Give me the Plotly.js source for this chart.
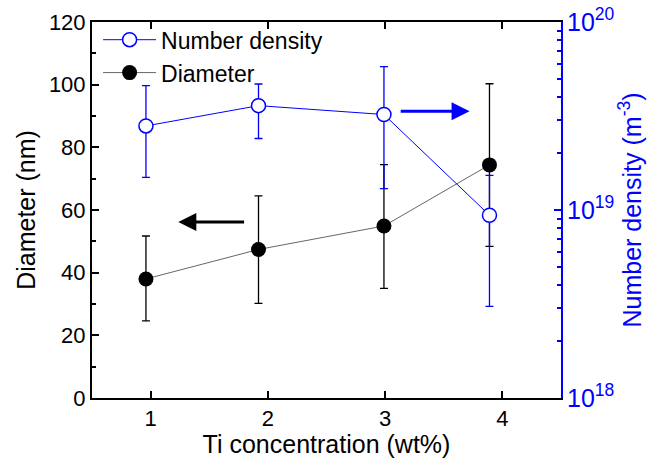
<!DOCTYPE html>
<html>
<head>
<meta charset="utf-8">
<script src="https://cdn.plot.ly/plotly-3.0.1.min.js"></script>
<style>html,body{margin:0;padding:0;background:#fff;}#chart{width:654px;height:458px;}</style>
</head>
<body>
<div id="chart"></div>
<script>
// Data
const tiConc = [0.96, 1.92, 2.99, 3.89];
const diameter = [38.0, 47.4, 54.9, 74.4];
const diameterErrPlus = [13.7, 17.1, 19.6, 25.9];
const diameterErrMinus = [13.4, 17.2, 19.9, 26.0];
const numberDensity = [2.80e19, 3.59e19, 3.22e19, 9.38e18];
const numberDensityUpper = [4.59e19, 4.68e19, 5.79e19, 1.53e19];
const numberDensityLower = [1.49e19, 2.40e19, 1.30e19, 3.07e18];
const xTicks = [1, 2, 3, 4];
const yTicks = [0, 20, 40, 60, 80, 100, 120];

const ndPlus = numberDensity.map((v, i) => numberDensityUpper[i] - v);
const ndMinus = numberDensity.map((v, i) => v - numberDensityLower[i]);

const FONT = 'Liberation Sans, Arial, sans-serif';
const BLUE = '#0000ff';

const traces = [
  {
    x: tiConc, y: diameter, name: 'Diameter', type: 'scatter', mode: 'lines+markers',
    yaxis: 'y', legendrank: 2,
    line: {color: '#666666', width: 1},
    marker: {symbol: 'circle', size: 15, color: '#000000', line: {width: 0}},
    error_y: {type: 'data', symmetric: false, array: diameterErrPlus, arrayminus: diameterErrMinus,
      color: '#000000', thickness: 1.3, width: 4}
  },
  {
    x: tiConc, y: numberDensity, name: 'Number density', type: 'scatter', mode: 'lines+markers',
    yaxis: 'y2', legendrank: 1,
    line: {color: BLUE, width: 1},
    marker: {symbol: 'circle', size: 14, color: '#ffffff', line: {width: 1.5, color: BLUE}},
    error_y: {type: 'data', symmetric: false, array: ndPlus, arrayminus: ndMinus,
      color: BLUE, thickness: 1.3, width: 4}
  }
];

const layout = {
  width: 654, height: 458,
  margin: {l: 92, r: 93, t: 22, b: 60, pad: 0},
  paper_bgcolor: '#ffffff', plot_bgcolor: '#ffffff',
  font: {family: FONT, size: 22, color: '#000'},
  showlegend: true,
  legend: {x: 0.013, y: 1.01, xanchor: 'left', yanchor: 'top', bgcolor: 'rgba(0,0,0,0)',
    font: {family: FONT, size: 23}, tracegroupgap: 0, itemwidth: 53},
  xaxis: {
    range: [0.5, 4.5], tickvals: xTicks, ticktext: xTicks.map(String),
    ticks: 'inside', ticklen: 7, tickwidth: 2, tickcolor: '#000',
    showline: true, linecolor: '#000', linewidth: 2, mirror: 'ticks',
    showgrid: false, zeroline: false,
    tickfont: {family: FONT, size: 22},
    title: {text: 'Ti concentration (wt%)', font: {family: FONT, size: 25}, standoff: 0}
  },
  yaxis: {
    range: [0, 120], tickvals: yTicks, ticktext: yTicks.map(String),
    ticks: 'inside', ticklen: 7, tickwidth: 2, tickcolor: '#000',
    minor: {dtick: 10, ticks: 'inside', ticklen: 4, tickwidth: 2, tickcolor: '#000', showgrid: false},
    showline: true, linecolor: '#000', linewidth: 2,
    showgrid: false, zeroline: false,
    tickfont: {family: FONT, size: 22},
    title: {text: 'Diameter (nm)', font: {family: FONT, size: 25}, standoff: 6}
  },
  yaxis2: {
    type: 'log', range: [18, 20], overlaying: 'y', side: 'right',
    dtick: 1, exponentformat: 'power',
    ticks: 'inside', ticklen: 7, tickwidth: 2, tickcolor: BLUE,
    minor: {dtick: 'D1', ticks: 'inside', ticklen: 4, tickwidth: 2, tickcolor: BLUE, showgrid: false},
    showline: true, linecolor: BLUE, linewidth: 2,
    showgrid: false, zeroline: false,
    tickfont: {family: FONT, size: 20, color: BLUE},
    title: {text: 'Number density (m<sup>-3</sup>)', font: {family: FONT, size: 25, color: BLUE}, standoff: 0}
  },
  annotations: [
    {x: 1.236, y: 56.2, ax: 1.81, ay: 56.2, xref: 'x', yref: 'y', axref: 'x', ayref: 'y',
      text: '', showarrow: true, arrowhead: 2, arrowsize: 1.2, arrowwidth: 3, arrowcolor: '#000'},
    {x: 3.72, y: 91.5, ax: 3.12, ay: 91.5, xref: 'x', yref: 'y', axref: 'x', ayref: 'y',
      text: '', showarrow: true, arrowhead: 2, arrowsize: 1.2, arrowwidth: 3, arrowcolor: BLUE}
  ]
};

Plotly.newPlot('chart', traces, layout, {displayModeBar: false, staticPlot: true});
</script>
</body>
</html>
